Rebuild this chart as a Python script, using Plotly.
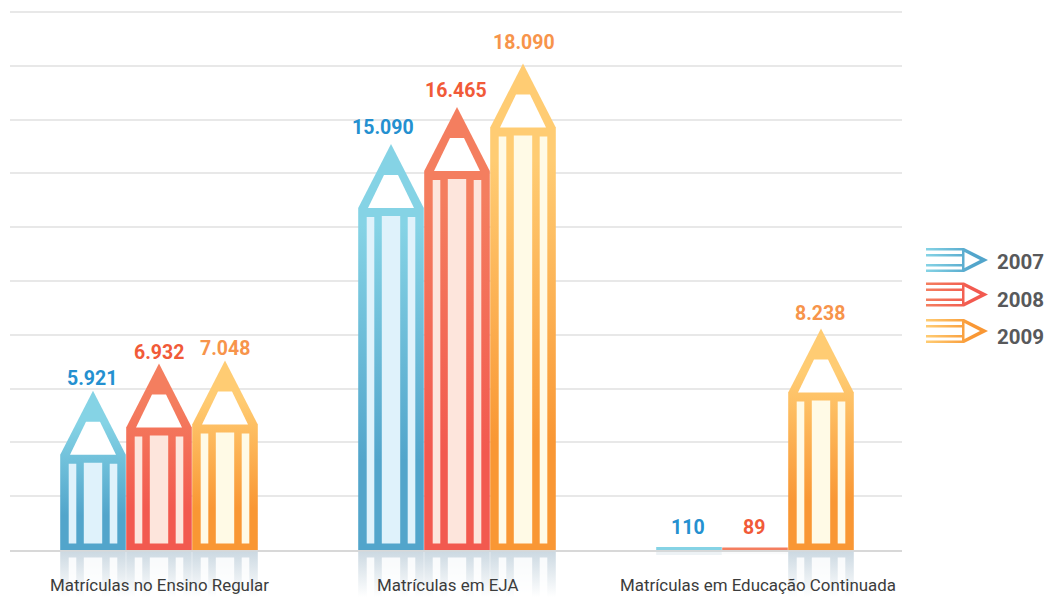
import plotly.graph_objects as go

# ---- data ----
categories = ["Matrículas no Ensino Regular", "Matrículas em EJA", "Matrículas em Educação Continuada"]
years = ["2007", "2008", "2009"]
values_2007 = [5921, 15090, 110]
values_2008 = [6932, 16465, 89]
values_2009 = [7048, 18090, 8238]
labels_2007 = ["5.921", "15.090", "110"]
labels_2008 = ["6.932", "16.465", "89"]
labels_2009 = ["7.048", "18.090", "8.238"]
y_ticks = list(range(0, 22000, 2000))

# ---- style ----
W, H = 1048, 597
TOP, BASE = 12, 550
PAD = 2                       # pixels of axis padding so the top gridline is drawn
LEFT, RIGHT = 10, 902
STEP = 298.0
C0 = 159
U = 20000 / (BASE - TOP)      # data units per pixel
PX = 1 / STEP                 # x units per pixel
BAR = 65.6
TEXT = ["#2490D0", "#F15A38", "#F7944B"]
LIGHT = ["#85D3E5", "#F47E5F", "#FFCC73"]
DARK = ["#52A5CB", "#F2594F", "#F99734"]
PALE = ["#DFF2FB", "#FDE5DC", "#FFFAE6"]
FONT = "Roboto"

series = [values_2007, values_2008, values_2009]
labels = [labels_2007, labels_2008, labels_2009]
# (dx, dy) nudges of the value labels in pixels
nudges = [
    [(-1, 12), (0, 11), (0, 12)],
    [(-8, 17), (-1, 17), (1, 21)],
    [(-1, 20), (-1, 20), (-1, 15)],
]
CATEGORY_SHIFT = [0.5, -10, 2.5]
ICON_Y = [260, 294.5, 331]
LEGEND_TEXT_Y = [262, 299.5, 336.5]

fig = go.Figure()


def poly(xs, ys, **kw):
    fig.add_trace(go.Scatter(x=xs, y=ys, mode="lines", fill="toself", line=dict(width=0),
                             hoverinfo="skip", showlegend=False, **kw))


def rects(spans, y0, y1):
    xs, ys = [], []
    for a, b in spans:
        xs += [a, b, b, a, a, None]
        ys += [y0, y0, y1, y1, y0, None]
    return xs, ys


for s, vals in enumerate(series):
    for c, v in enumerate(vals):
        cx = c + (s - 1) * 66 * PX
        half = BAR / 2 * PX
        tip_h = 64 * U
        grad = dict(type="vertical", start=v, stop=0,
                    colorscale=[[0, LIGHT[s]], [0.2, LIGHT[s]], [0.78, DARK[s]], [1, DARK[s]]])
        stripes_side = [(-24.3, -16.7), (16.7, 24.3)]
        stripe_mid = (-9.2, 9.2)
        if v > tip_h:
            shoulder = v - tip_h
            poly([cx - half, cx + half, cx + half, cx, cx - half, cx - half],
                 [0, 0, shoulder, v, shoulder, 0], fillgradient=grad)
            # white head window
            hy0, hy1 = shoulder, shoulder + 33 * U
            poly([cx - 23 * PX, cx + 23 * PX, cx + 7 * PX, cx - 7 * PX, cx - 23 * PX],
                 [hy0, hy0, hy1, hy1, hy0], fillcolor="#FFFFFF")
            # pale body stripes
            low = 6.5 * U
            xs, ys = rects([(cx + a * PX, cx + b * PX) for a, b in stripes_side], low, shoulder - 9 * U)
            poly(xs, ys, fillcolor=PALE[s])
            xs, ys = rects([(cx + stripe_mid[0] * PX, cx + stripe_mid[1] * PX)], low, shoulder - 8 * U)
            poly(xs, ys, fillcolor=PALE[s])
            # reflection
            top = -1.5 * U
            rh = -47 * U
            poly([cx - half, cx + half, cx + half, cx - half, cx - half], [top, top, rh, rh, top],
                 yaxis="y2",
                 fillgradient=dict(type="vertical", start=top, stop=rh,
                                   colorscale=[[0, "rgba(204,217,226,1)"], [1, "rgba(255,255,255,1)"]]))
            xs, ys = rects([(cx + a * PX, cx + b * PX) for a, b in stripes_side + [stripe_mid]], -7.5 * U, rh)
            poly(xs, ys, yaxis="y2", fillcolor="rgba(255,255,255,0.85)")
        else:
            xs, ys = rects([(cx - half, cx + half)], 0, v)
            poly(xs, ys, fillcolor=LIGHT[s])
            xs, ys = rects([(cx - half, cx + half)], -1.5 * U, -1.5 * U - 1.2 * v)
            poly(xs, ys, yaxis="y2", fillcolor="rgba(204,217,226,0.35)" if s == 0 else "rgba(204,217,226,0.1)")
        dx, dy = nudges[c][s]
        fig.add_annotation(x=cx, y=v, xref="x", yref="y", text="<b>%s</b>" % labels[s][c],
                           showarrow=False, xshift=dx, yshift=dy,
                           font=dict(family=FONT, size=19.5, color=TEXT[s]))

# category labels
for c, name in enumerate(categories):
    fig.add_annotation(x=c, y=1 - 585 / H, xref="x", yref="paper", yanchor="middle", text=name, showarrow=False,
                       xshift=CATEGORY_SHIFT[c], font=dict(family=FONT, size=16.9, color="#3C3C3C"))

# legend icons
for s, yc in enumerate(ICON_Y):
    x0, xb, xt = 926, 963, 988
    g = dict(type="horizontal", start=x0, stop=xt,
             colorscale=[[0, LIGHT[s]], [0.75, DARK[s]], [1, DARK[s]]])
    xs, ys = [], []
    for a, b in [(-12, -9.6), (-6, -3.4), (4, 6.4), (9.4, 12)]:
        xs += [x0, xb, xb, x0, x0, None]
        ys += [yc + a, yc + a, yc + b, yc + b, yc + a, None]
    xs += [xb - 1, xb + 1, xt, xb + 1, xb - 1, xb - 1]
    ys += [yc - 12, yc - 12, yc, yc + 12, yc + 12, yc - 12]
    poly(xs, ys, xaxis="x3", yaxis="y3", fillgradient=g)
    poly([964.5, 980, 964.5, 964.5], [yc - 8, yc, yc + 8, yc - 8], xaxis="x3", yaxis="y3", fillcolor="#FFFFFF")
    fig.add_annotation(x=995 / W, y=1 - LEGEND_TEXT_Y[s] / H, xref="paper", yref="paper", xanchor="left",
                       yanchor="middle", showarrow=False, text="<b>%s</b>" % years[s],
                       font=dict(family=FONT, size=20.5, color="#58595B"))

base_frac = 1 - BASE / H
fig.update_layout(
    width=W, height=H, margin=dict(l=0, r=0, t=0, b=0), autosize=False,
    paper_bgcolor="#FFFFFF", plot_bgcolor="rgba(0,0,0,0)", showlegend=False,
    xaxis=dict(domain=[LEFT / W, RIGHT / W], range=[(LEFT - C0) / STEP, (RIGHT - C0) / STEP],
               tickmode="array", tickvals=[0, 1, 2], ticktext=categories, showticklabels=False, anchor="y",
               showgrid=False, zeroline=False, showline=True, linecolor="#D8D8D8", linewidth=2,
               layer="below traces", ticks=""),
    yaxis=dict(domain=[base_frac, 1 - (TOP - PAD) / H], range=[0, 20000 + PAD * U],
               tickmode="array", tickvals=y_ticks,
               showticklabels=False, ticks="", showgrid=True, gridcolor="#E8E8E8", gridwidth=2,
               zeroline=False, showline=False),
    yaxis2=dict(domain=[0, base_frac], range=[-(H - BASE) * U, 0], visible=False, anchor="x"),
    xaxis3=dict(domain=[920 / W, 995 / W], range=[920, 995], visible=False, anchor="y3"),
    yaxis3=dict(domain=[1 - 345 / H, 1 - 240 / H], range=[345, 240], visible=False, anchor="x3"),
)

fig.write_html("out.html", post_script="document.body.style.margin='0';document.body.style.overflow='hidden';",
               config=dict(displayModeBar=False))
